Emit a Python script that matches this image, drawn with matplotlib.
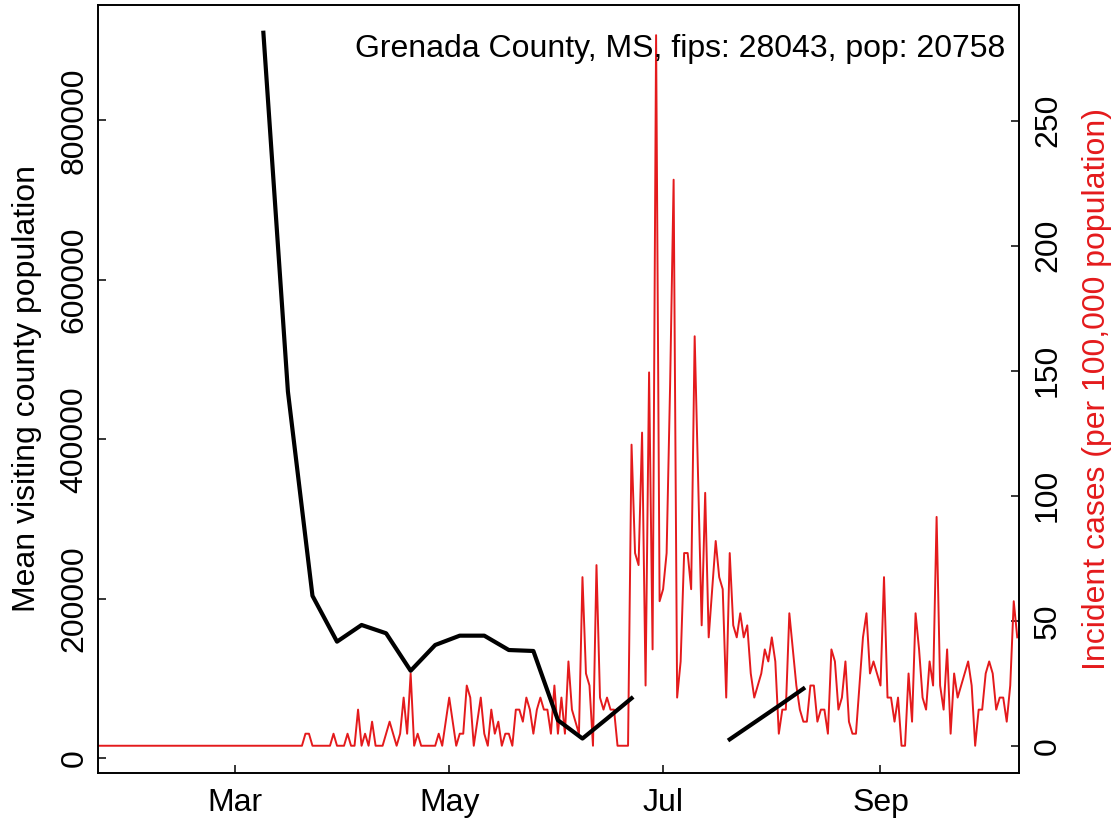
import numpy as np
import pandas as pd
import matplotlib
matplotlib.use('Agg')
import matplotlib.pyplot as plt

plt.rcParams['font.family'] = ['Liberation Sans', 'DejaVu Sans']

# county info
county_title = 'Grenada County, MS, fips: 28043, pop: 20758'
population = 20758

# daily new cases from 2020-01-22
daily_cases = [0] * 59 + [
    1, 1, 0, 0, 0, 0, 0, 0, 1, 0, 0, 0, 1, 0, 0, 3, 0, 1, 0, 2,      # d59-78
    0, 0, 0, 1, 2, 1, 0, 1, 4, 1, 6, 0, 1, 0, 0, 0, 0, 0, 1, 0,      # d79-98
    2, 4, 2, 0, 1, 1, 5, 4, 0, 2, 4, 1, 0, 3, 1, 2, 0, 1, 1, 0,      # d99-118
    3, 3, 2, 4, 3, 1, 3, 4, 3, 3, 1, 5, 1, 4, 1, 7, 3, 2, 1, 14,     # d119-138
    6, 5, 0, 15, 4, 3, 4, 3, 3, 0, 0, 0, 0, 25, 16, 15, 26, 5, 31, 8,  # d139-158
    59, 12, 13, 16, 30, 47, 4, 7, 16, 16, 13, 34, 22, 10, 21, 9, 13, 17, 14, 13,  # d159-178
    4, 16, 10, 9, 11, 9, 10, 6, 4, 5, 6, 8, 7, 9, 7, 1, 3, 3, 11, 8,  # d179-198
    5, 3, 2, 2, 5, 5, 2, 3, 3, 1, 8, 7, 3, 4, 7, 2, 1, 1, 5, 9,      # d199-218
    11, 6, 7, 6, 5, 14, 4, 4, 2, 4, 0, 0, 6, 2, 11, 8, 4, 3, 7, 5,   # d219-238
    19, 5, 3, 8, 1, 6, 4, 5, 6, 7, 5, 0, 3, 3, 6, 7, 6, 3, 4, 4,     # d239-258
    2, 5, 12, 9,                                                    # d259-262
]

# weekly mean visiting population (black line), from 2020-03-09
mean_visiting = [910000, 460000, 204000, 146500, 167400, 157000, 110000,
                 142300, 154000, 154000, 136000, 134800, 48000, 25000,
                 50000, 75500, np.nan, np.nan, np.nan, 24000, 45000, 66000,
                 87500]

month_ticks = ['2020-03-01', '2020-05-01', '2020-07-01', '2020-09-01']
month_labels = ['Mar', 'May', 'Jul', 'Sep']
left_ticks = [0, 200000, 400000, 600000, 800000]
right_ticks = [0, 50, 100, 150, 200, 250]

case_dates = pd.date_range('2020-01-22', periods=len(daily_cases), freq='D')
incidence = np.array(daily_cases) / population * 100000
visit_dates = pd.date_range('2020-03-09', periods=len(mean_visiting), freq='7D')

red = '#E41A1C'
W, H = 1119, 822
fig = plt.figure(figsize=(W / 100, H / 100), dpi=100)
ax = fig.add_axes([98 / W, 1 - 773 / H, 921 / W, 768 / H])
ax2 = ax.twinx()

ax2.plot(case_dates, incidence, color=red, lw=1.4)
ax.plot(visit_dates, mean_visiting, color='black', lw=3)
ax.set_zorder(ax2.get_zorder() + 1)
ax.patch.set_visible(False)

start = pd.Timestamp('2020-01-22')
ax.set_xlim(start - pd.Timedelta(hours=4), start + pd.Timedelta(days=262.5))
ax.set_ylim(-18200, 944800)
ax2.set_ylim(-10.9, 296.3)

ax.set_xticks(pd.to_datetime(month_ticks))
ax.set_xticklabels(month_labels)
ax.set_yticks(left_ticks)
ax.set_yticklabels([str(v) for v in left_ticks])
ax2.set_yticks(right_ticks)
ax2.set_yticklabels([str(v) for v in right_ticks])

for a in (ax, ax2):
    for s in a.spines.values():
        s.set_linewidth(1.2)
    a.tick_params(direction='in', length=5.8, width=1.1, labelsize=23)
ax.tick_params(axis='x', pad=10.5)
ax.tick_params(axis='y', pad=6)
ax2.tick_params(axis='y', pad=10)
for lab in ax.get_yticklabels():
    lab.set_rotation(90)
    lab.set_va('center')
for lab in ax2.get_yticklabels():
    lab.set_rotation(90)
    lab.set_va('center')

fig.text(27 / W, 1 - 389 / H, 'Mean visiting county population',
         rotation=90, ha='center', va='center', fontsize=23)
fig.text(1097 / W, 1 - 389 / H, 'Incident cases (per 100,000 population)',
         rotation=90, ha='center', va='center', fontsize=23, color=red)

ax.text((1005 - 98) / 921, (773 - 57) / 768, county_title,
        transform=ax.transAxes, ha='right', va='baseline', fontsize=23)

fig.savefig('out.png', dpi=100)
